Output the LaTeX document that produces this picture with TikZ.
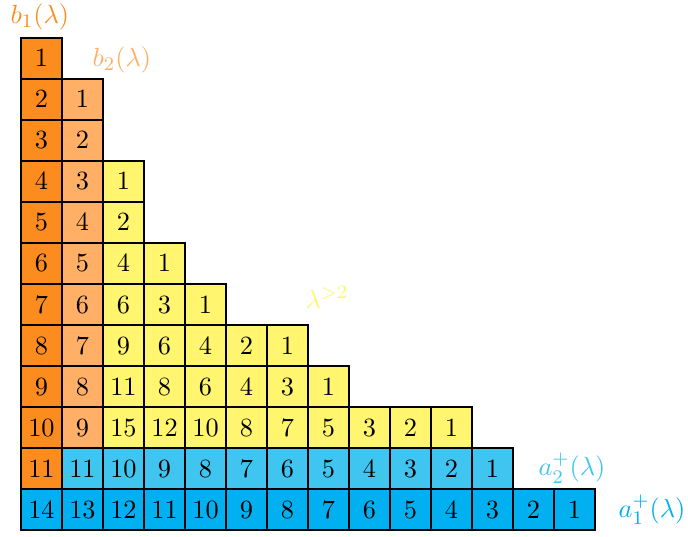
\documentclass[tikz,border=0pt]{standalone}
\definecolor{orD}{RGB}{253,140,30}
\definecolor{orL}{RGB}{255,176,102}
\definecolor{yel}{RGB}{255,245,110}
\definecolor{blL}{RGB}{64,197,240}
\definecolor{blD}{RGB}{0,176,240}
\tikzset{
  cell/.style={draw=black, line width=1.2pt, rectangle, minimum size=0.6cm, inner sep=0pt, font=\fontsize{11}{13}\selectfont},
  lab/.style={font=\fontsize{11}{13}\selectfont, inner sep=0pt}
}
\begin{document}
\begin{tikzpicture}[x=0.6cm,y=0.6cm]
\useasboundingbox (-0.512,-0.146) rectangle (16.268,12.927);
\foreach \r/\vals in {1/{1},2/{2,1},3/{3,2},4/{4,3,1},5/{5,4,2},6/{6,5,4,1},7/{7,6,6,3,1},8/{8,7,9,6,4,2,1},9/{9,8,11,8,6,4,3,1},10/{10,9,15,12,10,8,7,5,3,2,1},11/{11,11,10,9,8,7,6,5,4,3,2,1},12/{14,13,12,11,10,9,8,7,6,5,4,3,2,1}}{
  \foreach \v [count=\c] in \vals {
    \ifnum\r=12 \def\cc{blD}\else
      \ifnum\c=1 \def\cc{orD}\else
        \ifnum\r=11 \def\cc{blL}\else
          \ifnum\c=2 \def\cc{orL}\else \def\cc{yel}\fi
        \fi
      \fi
    \fi
    \node[cell, fill=\cc] (n\r-\c) at (\c-0.5, 12.5-\r) {$\v$};
  }
}
\node[lab, text=orD] (lb1) at (0.46,12.51) {$b_1(\lambda)$};
\node[lab, text=orL] (lb2) at (2.46,11.46) {$b_2(\lambda)$};
\node[lab, text=yel] (lg2) at (7.46,5.68) {$\lambda^{>2}$};
\node[lab, text=blL] (la2) at (13.44,1.51) {$a_2^+(\lambda)$};
\node[lab, text=blD] (la1) at (15.39,0.49) {$a_1^+(\lambda)$};
\end{tikzpicture}
\end{document}
